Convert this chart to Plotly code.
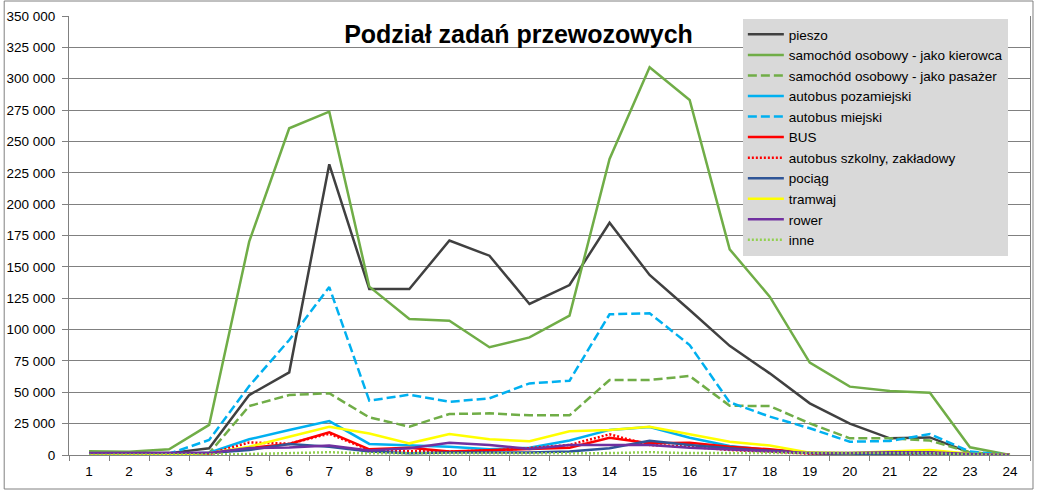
import plotly.graph_objects as go

hours = [str(h) for h in range(1, 25)]

pieszo = [1000, 1000, 1500, 5300, 47800, 65900, 231800, 132300, 132300, 171000, 158900, 120400,
          135500, 185200, 143500, 115600, 87000, 65100, 41200, 25000, 13300, 14000, 1900, 0]
kierowca = [3000, 2600, 4500, 24000, 170100, 260500, 273700, 134200, 108400, 107000, 85900, 93800,
            111100, 236000, 309100, 283000, 164000, 126200, 73600, 54500, 51000, 49700, 6100, 0]
pasazer = [500, 500, 800, 1500, 39000, 47800, 49200, 30000, 22600, 32700, 33200, 31600,
           31600, 59800, 59800, 63000, 39300, 39000, 25200, 13300, 13300, 11500, 2100, 0]
pozamiejski = [0, 0, 500, 1800, 12500, 20000, 27000, 8800, 8000, 6600, 4500, 5800,
               11500, 20000, 22300, 13800, 7200, 4000, 1800, 800, 1000, 1500, 300, 0]
miejski = [0, 0, 1000, 12000, 55000, 91700, 133900, 43300, 48100, 42400, 45200, 57100,
           59200, 112200, 113000, 87700, 42000, 30600, 21300, 10600, 11200, 16700, 2700, 0]
bus = [0, 0, 300, 1000, 5500, 8800, 18000, 4500, 5800, 2700, 3500, 4800,
       5800, 13800, 9300, 9800, 6600, 4500, 1500, 800, 1500, 2000, 300, 0]
szkolny = [0, 0, 300, 1000, 10000, 9000, 17000, 4000, 3000, 2700, 3500, 5500,
           8000, 16500, 8000, 6600, 4000, 2700, 1000, 500, 1000, 1200, 200, 0]
pociag = [500, 500, 800, 1500, 4000, 8800, 6600, 2700, 1300, 1900, 1900, 2000,
          2700, 5300, 11400, 8000, 5300, 3200, 1500, 800, 1200, 1500, 300, 0]
tramwaj = [0, 0, 300, 1500, 6600, 14600, 22500, 17200, 9300, 16700, 12500, 11000,
           19000, 20000, 22600, 16500, 10600, 7500, 1900, 1500, 2700, 4000, 1000, 0]
rower = [1500, 1500, 1700, 1700, 5500, 6000, 7500, 3500, 5300, 9800, 8000, 4800,
         8000, 8000, 8000, 5800, 4500, 2700, 1500, 1500, 2200, 2200, 800, 0]
inne = [0, 0, 300, 500, 800, 1500, 2200, 1300, 1300, 1500, 1500, 1500,
        1500, 1500, 2200, 1500, 1500, 1500, 1000, 1000, 1500, 1500, 500, 0]

series = [
    ("pieszo", pieszo, "#404040", "solid"),
    ("samochód osobowy - jako kierowca", kierowca, "#70ad47", "solid"),
    ("samochód osobowy - jako pasażer", pasazer, "#70ad47", "9px,4px"),
    ("autobus pozamiejski", pozamiejski, "#00b0f0", "solid"),
    ("autobus miejski", miejski, "#00b0f0", "9px,4px"),
    ("BUS", bus, "#ff0000", "solid"),
    ("autobus szkolny, zakładowy", szkolny, "#ff0000", "2px,2px"),
    ("pociąg", pociag, "#2f5597", "solid"),
    ("tramwaj", tramwaj, "#ffff00", "solid"),
    ("rower", rower, "#7030a0", "solid"),
    ("inne", inne, "#92d050", "2px,2px"),
]

fig = go.Figure()
for name, vals, color, dash in series:
    fig.add_trace(go.Scatter(x=hours, y=vals, name=name, mode="lines",
                             line=dict(color=color, width=2.5, dash=dash)))

FONT = "Liberation Sans, Arial, sans-serif"
fig.update_layout(
    width=1037, height=492,
    margin=dict(l=67, r=6, t=16, b=37),
    paper_bgcolor="white", plot_bgcolor="white",
    separators=", ",
    font=dict(family=FONT, size=13.5, color="black"),
    title=dict(text="<b>Podział zadań przewozowych</b>", x=0.5, xanchor="center",
               y=1 - 34 / 492, yanchor="middle", font=dict(family=FONT, size=25, color="black")),
    showlegend=True,
    legend=dict(x=0.7012, y=0.993, xanchor="left", yanchor="top", bgcolor="#d9d9d9",
                borderwidth=0, font=dict(family=FONT, size=13.5, color="black"),
                tracegroupgap=0, itemwidth=36),
    xaxis=dict(type="category", range=[-0.5, 23.5], tickson="boundaries", ticks="outside", ticklen=5,
               tickcolor="#808080", showline=True, linecolor="#808080", linewidth=1,
               showgrid=False, tickfont=dict(size=13.5), ticklabelstandoff=4),
    yaxis=dict(range=[0, 350000], dtick=25000, tickformat=",d", ticks="outside", ticklen=6,
               tickcolor="#808080", showline=True, linecolor="#808080", linewidth=1, mirror=True,
               showgrid=True, gridcolor="#808080", gridwidth=1, zeroline=False,
               tickfont=dict(size=13.5), ticklabelstandoff=4),
    shapes=[dict(type="rect", xref="paper", yref="paper",
                 x0=-65 / 964, x1=1 + 3 / 964, y0=-34 / 439, y1=1 + 15 / 439,
                 line=dict(color="#808080", width=1), fillcolor="rgba(0,0,0,0)", layer="below")],
)

fig.write_html("out.html")
